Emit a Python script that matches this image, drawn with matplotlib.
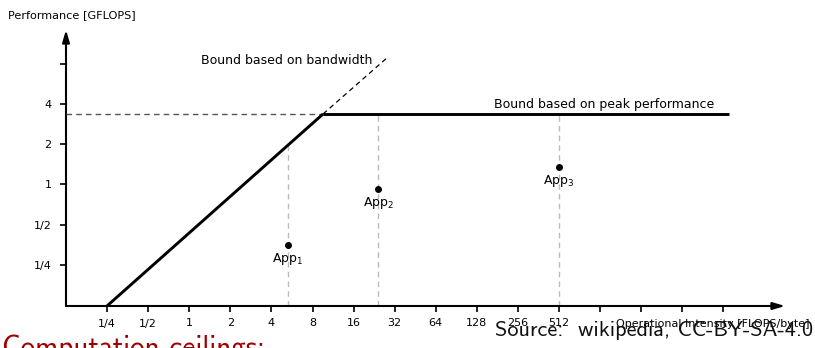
import matplotlib
matplotlib.use("Agg")
import matplotlib.pyplot as plt
import numpy as np

# ---- data ----
x_ticks = [1/4, 1/2, 1, 2, 4, 8, 16, 32, 64, 128, 256, 512, 1024, 2048, 4096, 8192]
x_labels = ["1/4", "1/2", "1", "2", "4", "8", "16", "32", "64", "128", "256", "512", "", "", "", ""]
y_ticks = [1/4, 1/2, 1, 2, 4, 8]
y_labels = ["1/4", "1/2", "1", "2", "4", ""]

bw_start = (0.25, 0.1235)        # bandwidth bound start
ridge = (9.56, 3.37)             # ridge point
bw_ext_end = (28.6, 9.0)         # dashed extension of bandwidth bound
peak_end_x = 9000                # end of peak performance line

app_names = ["App$_1$", "App$_2$", "App$_3$"]
app_x = [5.3, 24.2, 512]
app_y = [0.352, 0.925, 1.35]

# ---- figure ----
fig = plt.figure(figsize=(8.15, 3.48), dpi=100)
W, H = 815, 348
ax = fig.add_axes([66/W, (H-306)/H, (785-66)/W, (306-30)/H])
ax.set_xscale('log', base=2)
ax.set_yscale('log', base=2)
ax.set_xlim(2**-3, 2**14.5)
ax.set_ylim(2**-3.02, 2**3.84)
for s in ax.spines.values():
    s.set_visible(False)

font = 'DejaVu Sans'
ax.set_xticks(x_ticks)
ax.set_xticklabels(x_labels, fontsize=8, family=font)
ax.set_yticks(y_ticks)
ax.set_yticklabels(y_labels, fontsize=8, family=font)
ax.minorticks_off()
ax.tick_params(axis='both', direction='out', length=4.5, width=1.2, color='black')
ax.tick_params(axis='x', pad=4.5)
ax.tick_params(axis='y', pad=6)

arrow_kw = dict(arrowstyle='-|>,head_length=0.6,head_width=0.18', lw=1.5,
                color='black', shrinkA=0, shrinkB=0, mutation_scale=12)
ax.annotate('', xy=(1, 0), xytext=(0, 0), xycoords='axes fraction',
            textcoords='axes fraction', arrowprops=arrow_kw, annotation_clip=False)
ax.annotate('', xy=(0, 1), xytext=(0, 0), xycoords='axes fraction',
            textcoords='axes fraction', arrowprops=arrow_kw, annotation_clip=False)

# roofline
ax.plot([bw_start[0], ridge[0]], [bw_start[1], ridge[1]], color='black', lw=2.1,
        solid_capstyle='butt', clip_on=False, zorder=4)
ax.plot([ridge[0], peak_end_x], [ridge[1], ridge[1]], color='black', lw=2.1,
        solid_capstyle='butt', zorder=4)
ax.plot([ridge[0], bw_ext_end[0]], [ridge[1], bw_ext_end[1]], color='black', lw=0.9,
        linestyle=(0, (4, 3)), zorder=3)
ax.plot([2**-3, ridge[0]], [ridge[1], ridge[1]], color='#555555', lw=1.0,
        linestyle=(0, (4, 3)), zorder=3)

# roofline value at each app
lx0, ly0 = np.log2(bw_start)
lx1, ly1 = np.log2(ridge)
for name, xv, yv in zip(app_names, app_x, app_y):
    lx = np.log2(xv)
    if xv < ridge[0]:
        top = 2 ** (ly0 + (ly1 - ly0) * (lx - lx0) / (lx1 - lx0))
    else:
        top = ridge[1]
    ax.plot([xv, xv], [2**-3.02, top], color='#bbbbbb', lw=1.0,
            linestyle=(0, (4, 3)), zorder=2)
    ax.plot([xv], [yv], 'o', color='black', ms=4, zorder=5)
    ax.annotate(name, (xv, yv), xytext=(0, -4), textcoords='offset points',
                ha='center', va='top', fontsize=9, family=font)

ax.text(372/W, 1 - 60/H, "Bound based on bandwidth", transform=fig.transFigure,
        ha='right', va='center', fontsize=9, family=font)
ax.text(494/W, 1 - 104/H, "Bound based on peak performance", transform=fig.transFigure,
        ha='left', va='center', fontsize=9, family=font)

fig.text(8/W, 1 - 15/H, "Performance [GFLOPS]", ha='left', va='center',
         fontsize=8.1, family=font)
fig.text(809/W, 1 - 324/H, "Operational Intensity [FLOPS/byte]", ha='right',
         va='center', fontsize=8.0, family=font)

fig.text(813/W, (H - 336)/H, "Source:  wikipedia, CC-BY-SA-4.0", ha='right',
         va='baseline', fontsize=16, family='cmss10', color='#111111')
fig.text(2/W, (H - 356)/H, "Computation ceilings:", ha='left', va='baseline',
         fontsize=21, family='cmss10', color='#a00000')

fig.savefig('out.png', dpi=100)
